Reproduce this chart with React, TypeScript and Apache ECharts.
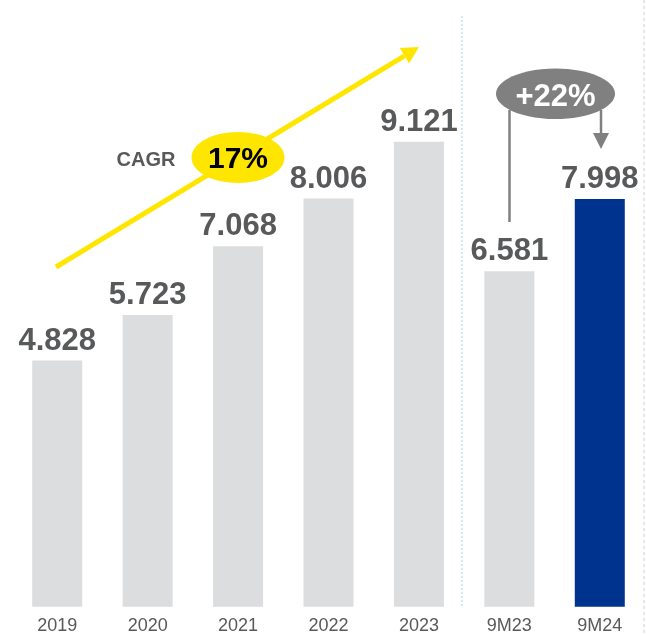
import React, { useEffect, useRef } from "react";
import * as echarts from "echarts";

const categories = ["2019", "2020", "2021", "2022", "2023", "9M23", "9M24"];
const values = [4.828, 5.723, 7.068, 8.006, 9.121, 6.581, 7.998];
const barColors = ["#DCDDDE", "#DCDDDE", "#DCDDDE", "#DCDDDE", "#DCDDDE", "#DCDDDE", "#00338D"];
const cagrText = "17%";
const growthText = "+22%";

const FONT = "'Liberation Sans', Arial, sans-serif";

export default function App() {
  const ref = useRef<HTMLDivElement>(null);
  useEffect(() => {
    if (!ref.current) return;
    const chart = echarts.init(ref.current, undefined, { renderer: "svg" });
    const yellow = "#FFE600";
    const grey = "#808080";
    // arrow geometry
    const sx = 56, sy = 267, tx = 419, ty = 47;
    const dx = tx - sx, dy = ty - sy;
    const len = Math.sqrt(dx * dx + dy * dy);
    const ux = dx / len, uy = dy / len;
    const hl = 17, hw = 9;
    const bx = tx - hl * ux, by = ty - hl * uy;
    const px = -uy, py = ux;
    chart.setOption({
      animation: false,
      grid: { left: 12, right: 1, top: 0, bottom: 27.3, containLabel: false },
      xAxis: {
        type: "category",
        data: categories,
        axisLine: { show: false },
        axisTick: { show: false },
        axisLabel: { color: "#595959", fontSize: 18, fontFamily: FONT, margin: 9 },
      },
      yAxis: { type: "value", min: 0, max: 11.9, show: false, splitLine: { show: false } },
      series: [
        {
          type: "bar",
          barWidth: 50,
          data: values.map((v, i) => ({ value: v, itemStyle: { color: barColors[i] } })),
          label: {
            show: true,
            position: "top",
            distance: 6,
            color: "#58595B",
            fontSize: 31,
            fontWeight: "bold",
            fontFamily: FONT,
            formatter: (p: any) => Number(p.value).toFixed(3),
          },
        },
      ],
      graphic: [
        {
          type: "line",
          shape: { x1: 462, y1: 16, x2: 462, y2: 606 },
          style: { stroke: "#9DD6EC", lineWidth: 1, lineDash: [2, 2] },
          silent: true,
        },
        {
          type: "line",
          shape: { x1: 644, y1: 0, x2: 644, y2: 634 },
          style: { stroke: "#D0D0D0", lineWidth: 1, lineDash: [3, 3] },
          silent: true,
        },
        {
          type: "line",
          shape: { x1: sx, y1: sy, x2: bx, y2: by },
          style: { stroke: yellow, lineWidth: 5 },
          silent: true,
        },
        {
          type: "polygon",
          shape: {
            points: [
              [tx, ty],
              [bx + hw * px, by + hw * py],
              [bx - hw * px, by - hw * py],
            ],
          },
          style: { fill: yellow },
          silent: true,
        },
        {
          type: "ellipse",
          shape: { cx: 238, cy: 157.5, rx: 46.5, ry: 25.5 },
          style: { fill: yellow },
          silent: true,
        },
        {
          type: "text",
          x: 238,
          y: 157,
          style: {
            text: cagrText,
            fill: "#000000",
            font: `bold 30px ${FONT}`,
            align: "center",
            verticalAlign: "middle",
          },
          silent: true,
        },
        {
          type: "text",
          x: 146,
          y: 159,
          style: {
            text: "CAGR",
            fill: "#58595B",
            font: `bold 20px ${FONT}`,
            align: "center",
            verticalAlign: "middle",
          },
          silent: true,
        },
        {
          type: "line",
          shape: { x1: 509.5, y1: 110, x2: 509.5, y2: 222 },
          style: { stroke: grey, lineWidth: 2.5 },
          silent: true,
        },
        {
          type: "line",
          shape: { x1: 601, y1: 110, x2: 601, y2: 134 },
          style: { stroke: grey, lineWidth: 2.5 },
          silent: true,
        },
        {
          type: "polygon",
          shape: { points: [[593, 133], [609, 133], [601, 149]] },
          style: { fill: grey },
          silent: true,
        },
        {
          type: "ellipse",
          shape: { cx: 555.5, cy: 93.7, rx: 59.5, ry: 25.3 },
          style: { fill: grey },
          silent: true,
        },
        {
          type: "text",
          x: 555.5,
          y: 95,
          style: {
            text: growthText,
            fill: "#FFFFFF",
            font: `bold 31px ${FONT}`,
            align: "center",
            verticalAlign: "middle",
          },
          silent: true,
        },
      ],
    });
    return () => chart.dispose();
  }, []);
  return (
    <div
      ref={ref}
      style={{ position: "fixed", left: 0, top: 0, width: 646, height: 634 }}
    />
  );
}
